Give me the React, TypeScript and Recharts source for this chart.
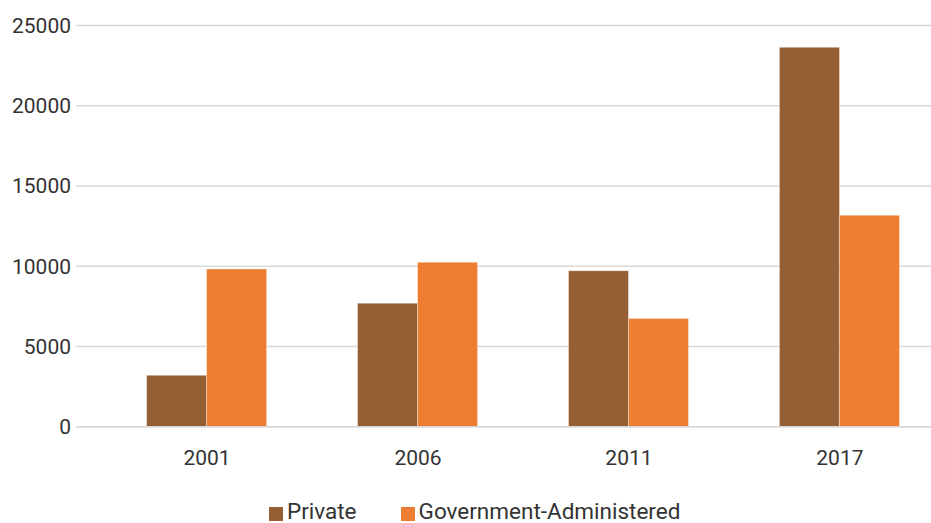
import { BarChart, Bar, XAxis, YAxis, CartesianGrid, Legend } from "recharts";

const years = ["2001", "2006", "2011", "2017"];
const privateValues = [3200, 7700, 9720, 23640];
const governmentValues = [9830, 10250, 6750, 13170];
const yTicks = [0, 5000, 10000, 15000, 20000, 25000];

const data = years.map((year, i) => ({
  year,
  private: privateValues[i],
  government: governmentValues[i],
}));

const FONT = "Roboto, 'Noto Sans', sans-serif";
const TEXT = "#333333";
const BROWN = "#955F35";
const ORANGE = "#ED7D31";

function ChartLegend() {
  const item = (color: string, label: string, gap: number) => (
    <div style={{ display: "flex", alignItems: "center", marginRight: gap }}>
      <span
        style={{
          display: "inline-block",
          width: 14,
          height: 14,
          background: color,
          marginRight: 4,
          alignSelf: "flex-end",
          marginBottom: 5,
        }}
      />
      <span>{label}</span>
    </div>
  );
  return (
    <div
      style={{
        display: "flex",
        alignItems: "center",
        height: 30,
        lineHeight: "30px",
        fontFamily: FONT,
        fontSize: 22.5,
        color: TEXT,
        whiteSpace: "nowrap",
      }}
    >
      {item(BROWN, "Private", 44)}
      {item(ORANGE, "Government-Administered", 0)}
    </div>
  );
}

export default function App() {
  return (
    <div
      style={{
        position: "absolute",
        left: 0,
        top: 0,
        width: 931,
        height: 523,
        overflow: "hidden",
        background: "#fff",
      }}
    >
      <BarChart
        width={971}
        height={523}
        data={data}
        margin={{ top: 25.5, right: 0, bottom: 16.3, left: 0 }}
        barSize={60}
        barGap={0}
      >
        <CartesianGrid vertical={false} stroke="#d9d9d9" strokeWidth={1.5} />
        <XAxis
          dataKey="year"
          height={50}
          padding={{ left: 25.6, right: 25.6 }}
          axisLine={{ stroke: "#d9d9d9", strokeWidth: 1.5 }}
          tickLine={false}
          tickSize={0}
          tickMargin={23}
          tick={{ fill: TEXT, fontSize: 21, fontFamily: FONT }}
        />
        <YAxis
          width={76}
          domain={[0, 25000]}
          ticks={yTicks}
          axisLine={false}
          tickLine={false}
          tickSize={0}
          tickMargin={5}
          tick={{ fill: TEXT, fontSize: 21, fontFamily: FONT }}
        />
        <Legend
          verticalAlign="bottom"
          content={() => <ChartLegend />}
          wrapperStyle={{ top: 496, left: 269, width: "auto" }}
        />
        <Bar
          dataKey="private"
          name="Private"
          fill={BROWN}
          stroke="rgba(255,255,255,0.35)"
          strokeWidth={1}
          isAnimationActive={false}
        />
        <Bar
          dataKey="government"
          name="Government-Administered"
          fill={ORANGE}
          stroke="rgba(255,255,255,0.35)"
          strokeWidth={1}
          isAnimationActive={false}
        />
      </BarChart>
    </div>
  );
}
